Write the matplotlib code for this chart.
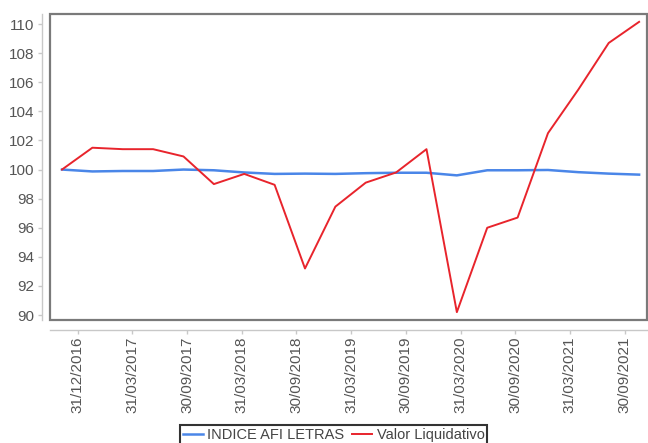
import numpy as np
import matplotlib.pyplot as plt
from matplotlib.patches import Rectangle

# values
indice_afi = [100.0, 99.87, 99.9, 99.9, 100.0, 99.95, 99.8, 99.7, 99.72, 99.7,
              99.75, 99.78, 99.78, 99.6, 99.95, 99.95, 99.97, 99.82, 99.72, 99.65]
valor_liq = [100.0, 101.5, 101.4, 101.4, 100.9, 99.0, 99.7, 98.95, 93.2, 97.45,
             99.1, 99.8, 101.4, 90.2, 96.0, 96.7, 102.5, 105.5, 108.7, 110.15]
tick_labels = ['31/12/2016', '31/03/2017', '30/09/2017', '31/03/2018', '30/09/2018',
               '31/03/2019', '30/09/2019', '31/03/2020', '30/09/2020', '31/03/2021',
               '30/09/2021']

plt.rcParams['font.family'] = ['Liberation Sans', 'DejaVu Sans']

fig = plt.figure(figsize=(6.48, 4.43), dpi=100)
ax = fig.add_axes([50 / 648, 123 / 443, 597 / 648, 306 / 443])

# axis lines drawn slightly off the plot frame, light gray
for s in ['top', 'right']:
    ax.spines[s].set_visible(False)
ax.spines['left'].set_position(('outward', 6))
ax.spines['bottom'].set_position(('outward', 7))
for s in ['left', 'bottom']:
    ax.spines[s].set_color('#c8c8c8')
    ax.spines[s].set_linewidth(1.0)

x = np.arange(len(valor_liq))
ax.plot(x, indice_afi, color='#4a86e8', lw=1.8, label='INDICE AFI LETRAS')
ax.plot(x, valor_liq, color='#e8242c', lw=1.4, label='Valor Liquidativo')

ax.set_xlim(-0.395, 19.26)
ax.set_ylim(89.66, 110.69)
ax.set_yticks(np.arange(90, 111, 2))
# category labels every 1.8 data steps (as in the source chart)
ax.set_xticks(0.52 + 1.8 * np.arange(len(tick_labels)))
ax.set_xticklabels(tick_labels)

ax.tick_params(axis='both', colors='#c8c8c8', length=3, width=1,
               labelcolor='#555555', labelsize=11)
ax.tick_params(axis='y', pad=2)
ax.tick_params(axis='x', pad=2, labelrotation=90)

ax.add_patch(Rectangle((0, 0), 1, 1, transform=ax.transAxes, fill=False,
                       edgecolor='#7a7a7a', lw=1.6, clip_on=False, zorder=5))

leg = fig.legend(loc='upper center', bbox_to_anchor=(0.5147, 0.041), ncol=2,
                 frameon=True, fancybox=False, fontsize=10.5, handlelength=1.4,
                 handletextpad=0.3, columnspacing=0.5, borderpad=0.2,
                 borderaxespad=0)
leg.get_frame().set_edgecolor('black')
leg.get_frame().set_linewidth(1.5)
for t in leg.get_texts():
    t.set_color('#444444')

fig.savefig('out.png', dpi=100)
